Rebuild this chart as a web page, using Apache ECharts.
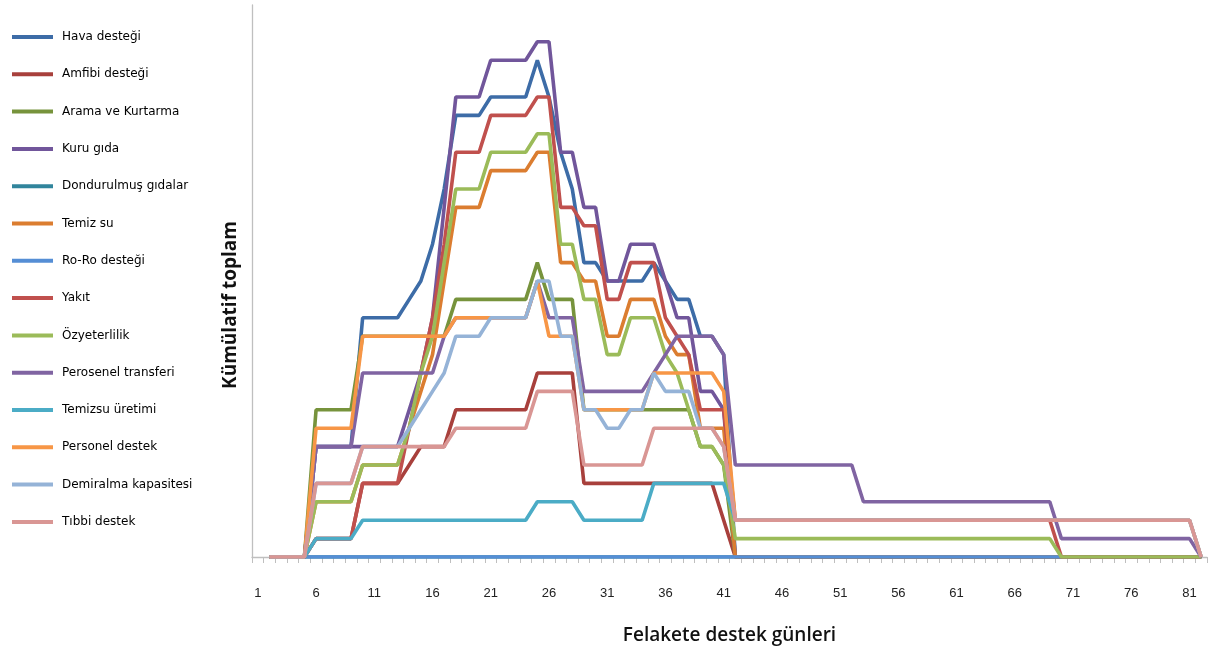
<!DOCTYPE html>
<html>
<head>
<meta charset="utf-8">
<script src="https://cdn.jsdelivr.net/npm/echarts@6/dist/echarts.min.js"></script>
<style>
html,body{margin:0;padding:0;background:#fff;}
#chart{width:1208px;height:650px;}
</style>
</head>
<body>
<div id="chart"></div>
<script>
var days = [1,2,3,4,5,6,7,8,9,10,11,12,13,14,15,16,17,18,19,20,21,22,23,24,25,26,27,28,29,30,31,32,33,34,35,36,37,38,39,40,41,42,43,44,45,46,47,48,49,50,51,52,53,54,55,56,57,58,59,60,61,62,63,64,65,66,67,68,69,70,71,72,73,74,75,76,77,78,79,80,81,82];

var seriesNames = ['Hava desteği','Amfibi desteği','Arama ve Kurtarma','Kuru gıda','Dondurulmuş gıdalar','Temiz su','Ro-Ro desteği','Yakıt','Özyeterlilik','Perosenel transferi','Temizsu üretimi','Personel destek','Demiralma kapasitesi','Tıbbi destek'];

var seriesColors = ['#3D6CA7','#A8403C','#77933C','#71569B','#31859C','#DB7D30','#558ED5','#C0504D','#9BBB59','#8064A2','#4BACC6','#F79646','#95B3D7','#D99694'];

var hava = [null,0,0,0,0,6,6,6,6,13, 13,13,13,14,15,17,20,24,24,24, 25,25,25,25,27,25,22,20,16,16, 15,15,15,15,16,15,14,14,12,12, 11,0,0,0,0,0,0,0,0,0, 0,0,0,0,0,0,0,0,0,0, 0,0,0,0,0,0,0,0,0,0, 0,0,0,0,0,0,0,0,0,0, 0,0];
var amfibi = [null,0,0,0,0,1,1,1,1,4, 4,4,4,5,6,6,6,8,8,8, 8,8,8,8,10,10,10,10,4,4, 4,4,4,4,4,4,4,4,4,4, 2,0,0,0,0,0,0,0,0,0, 0,0,0,0,0,0,0,0,0,0, 0,0,0,0,0,0,0,0,0,0, 0,0,0,0,0,0,0,0,0,0, 0,0];
var arama = [null,0,0,0,0,8,8,8,8,12, 12,12,12,12,12,12,12,14,14,14, 14,14,14,14,16,14,14,14,8,8, 8,8,8,8,8,8,8,8,6,6, 5,0,0,0,0,0,0,0,0,0, 0,0,0,0,0,0,0,0,0,0, 0,0,0,0,0,0,0,0,0,0, 0,0,0,0,0,0,0,0,0,0, 0,0];
var kuruGida = [null,0,0,0,0,6,6,6,6,6, 6,6,6,8,10,13,19,25,25,25, 27,27,27,27,28,28,22,22,19,19, 15,15,17,17,17,15,13,13,9,9, 8,0,0,0,0,0,0,0,0,0, 0,0,0,0,0,0,0,0,0,0, 0,0,0,0,0,0,0,0,0,0, 0,0,0,0,0,0,0,0,0,0, 0,0];
var dondurulmus = [null,0,0,0,0,0,0,0,0,0, 0,0,0,0,0,0,0,0,0,0, 0,0,0,0,0,0,0,0,0,0, 0,0,0,0,0,0,0,0,0,0, 0,0,0,0,0,0,0,0,0,0, 0,0,0,0,0,0,0,0,0,0, 0,0,0,0,0,0,0,0,0,0, 0,0,0,0,0,0,0,0,0,0, 0,0];
var temizSu = [null,0,0,0,0,3,3,3,3,5, 5,5,5,7,9,11,15,19,19,19, 21,21,21,21,22,22,16,16,15,15, 12,12,14,14,14,12,11,11,7,7, 7,0,0,0,0,0,0,0,0,0, 0,0,0,0,0,0,0,0,0,0, 0,0,0,0,0,0,0,0,0,0, 0,0,0,0,0,0,0,0,0,0, 0,0];
var roRo = [null,0,0,0,0,0,0,0,0,0, 0,0,0,0,0,0,0,0,0,0, 0,0,0,0,0,0,0,0,0,0, 0,0,0,0,0,0,0,0,0,0, 0,0,0,0,0,0,0,0,0,0, 0,0,0,0,0,0,0,0,0,0, 0,0,0,0,0,0,0,0,0,0, 0,0,0,0,0,0,0,0,0,0, 0,0];
var yakit = [null,0,0,0,0,1,1,1,1,4, 4,4,4,7,10,13,17,22,22,22, 24,24,24,24,25,25,19,19,18,18, 14,14,16,16,16,13,12,11,8,8, 8,2,2,2,2,2,2,2,2,2, 2,2,2,2,2,2,2,2,2,2, 2,2,2,2,2,2,2,2,2,0, 0,0,0,0,0,0,0,0,0,0, 0,0];
var ozyeterlilik = [null,0,0,0,0,3,3,3,3,5, 5,5,5,7,10,12,16,20,20,20, 22,22,22,22,23,23,17,17,14,14, 11,11,13,13,13,11,10,8,6,6, 5,1,1,1,1,1,1,1,1,1, 1,1,1,1,1,1,1,1,1,1, 1,1,1,1,1,1,1,1,1,0, 0,0,0,0,0,0,0,0,0,0, 0,0];
var perosenel = [null,0,0,0,0,6,6,6,6,10, 10,10,10,10,10,10,12,13,13,13, 13,13,13,13,15,13,13,13,9,9, 9,9,9,9,10,11,12,12,12,12, 11,5,5,5,5,5,5,5,5,5, 5,5,3,3,3,3,3,3,3,3, 3,3,3,3,3,3,3,3,3,1, 1,1,1,1,1,1,1,1,1,1, 1,0];
var temizsuUretimi = [null,0,0,0,0,1,1,1,1,2, 2,2,2,2,2,2,2,2,2,2, 2,2,2,2,3,3,3,3,2,2, 2,2,2,2,4,4,4,4,4,4, 4,2,2,2,2,2,2,2,2,2, 2,2,2,2,2,2,2,2,2,2, 2,2,2,2,2,2,2,2,2,2, 2,2,2,2,2,2,2,2,2,2, 2,0];
var personel = [null,0,0,0,0,7,7,7,7,12, 12,12,12,12,12,12,12,13,13,13, 13,13,13,13,15,12,12,12,8,8, 8,8,8,8,10,10,10,10,10,10, 9,2,2,2,2,2,2,2,2,2, 2,2,2,2,2,2,2,2,2,2, 2,2,2,2,2,2,2,2,2,2, 2,2,2,2,2,2,2,2,2,2, 2,0];
var demiralma = [null,0,0,0,0,4,4,4,4,6, 6,6,6,7,8,9,10,12,12,12, 13,13,13,13,15,15,12,12,8,8, 7,7,8,8,10,9,9,9,7,7, 6,2,2,2,2,2,2,2,2,2, 2,2,2,2,2,2,2,2,2,2, 2,2,2,2,2,2,2,2,2,2, 2,2,2,2,2,2,2,2,2,2, 2,0];
var tibbi = [null,0,0,0,0,4,4,4,4,6, 6,6,6,6,6,6,6,7,7,7, 7,7,7,7,9,9,9,9,5,5, 5,5,5,5,7,7,7,7,7,7, 6,2,2,2,2,2,2,2,2,2, 2,2,2,2,2,2,2,2,2,2, 2,2,2,2,2,2,2,2,2,2, 2,2,2,2,2,2,2,2,2,2, 2,0];

var allData = [hava, amfibi, arama, kuruGida, dondurulmus, temizSu, roRo, yakit, ozyeterlilik, perosenel, temizsuUretimi, personel, demiralma, tibbi];

var series = seriesNames.map(function (name, i) {
  return {
    name: name,
    type: 'line',
    data: allData[i],
    symbol: 'none',
    showSymbol: false,
    smooth: false,
    connectNulls: false,
    lineStyle: { width: 3.6, color: seriesColors[i] },
    itemStyle: { color: seriesColors[i] },
    emphasis: { disabled: true },
    animation: false
  };
});

var chart = echarts.init(document.getElementById('chart'), null, { renderer: 'canvas' });
chart.setOption({
  animation: false,
  backgroundColor: '#ffffff',
  grid: { left: 252, right: 1, top: 5, bottom: 93, containLabel: false },
  legend: {
    orient: 'vertical',
    left: 7,
    top: 25,
    itemWidth: 41,
    itemHeight: 4,
    itemGap: 23.3,
    icon: 'rect',
    selectedMode: false,
    data: seriesNames,
    textStyle: { fontFamily: 'DejaVu Sans, sans-serif', fontSize: 12, color: '#000', lineHeight: 14, padding: [0, 0, 0, 4] }
  },
  xAxis: {
    type: 'category',
    data: days,
    boundaryGap: true,
    name: 'Felakete destek günleri',
    nameLocation: 'middle',
    nameGap: 69,
    nameTextStyle: { fontFamily: 'Open Sans, sans-serif', fontSize: 19, fontWeight: 600, color: '#111' },
    axisLine: { lineStyle: { color: '#BFBFBF', width: 1.3 } },
    axisTick: { show: true, interval: 0, length: 6, lineStyle: { color: '#BFBFBF' } },
    axisLabel: { interval: 4, margin: 30, fontFamily: 'Liberation Sans, Arial, sans-serif', fontSize: 13, color: '#222' },
    splitLine: { show: false }
  },
  yAxis: {
    type: 'value',
    min: 0,
    max: 30,
    axisLine: { show: true, lineStyle: { color: '#BFBFBF', width: 1.3 } },
    axisTick: { show: false },
    axisLabel: { show: false },
    splitLine: { show: false }
  },
  graphic: [{
    type: 'text',
    x: 231,
    y: 305,
    rotation: Math.PI / 2,
    style: {
      text: 'Kümülatif toplam',
      fontFamily: 'Open Sans, sans-serif',
      fontSize: 19,
      fontWeight: 'bold',
      fill: '#111',
      align: 'center',
      verticalAlign: 'middle'
    }
  }],
  series: series
});
</script>
</body>
</html>
